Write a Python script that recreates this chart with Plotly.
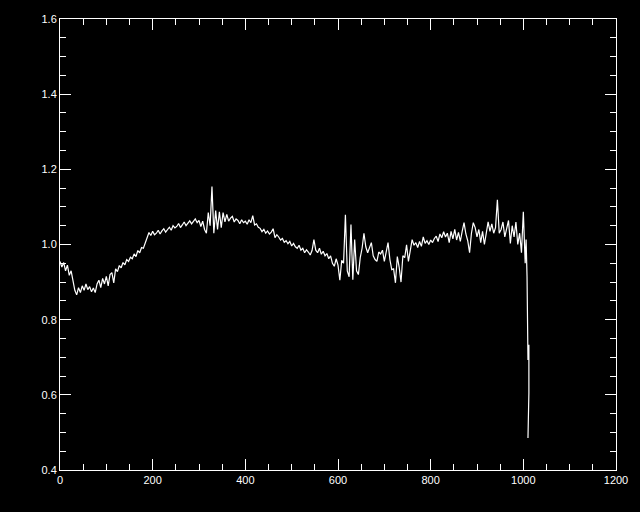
import plotly.graph_objects as go

# x positions (step 4) for main section
x_main = list(range(0, 1004, 4))
y_main = [
    0.955, 0.94, 0.952, 0.93, 0.945, 0.918, 0.93, 0.90, 0.878, 0.866,
    0.885, 0.872, 0.89, 0.878, 0.895, 0.88, 0.888, 0.874, 0.884, 0.872,
    0.895, 0.905, 0.885, 0.91, 0.895, 0.915, 0.89, 0.92, 0.925, 0.898,
    0.935, 0.928, 0.944, 0.938, 0.952, 0.946, 0.96, 0.955, 0.966, 0.962,
    0.975, 0.968, 0.984, 0.978, 0.992, 0.99, 1.005, 1.018, 1.032, 1.024,
    1.035, 1.026, 1.03, 1.038, 1.028, 1.036, 1.042, 1.033, 1.04, 1.046,
    1.038, 1.05, 1.044, 1.048, 1.056, 1.045, 1.052, 1.06, 1.05, 1.057,
    1.063, 1.055, 1.062, 1.068, 1.058, 1.064, 1.048, 1.062, 1.04, 1.03,
    1.085, 1.05, 1.154, 1.03, 1.09, 1.04, 1.087, 1.045, 1.085, 1.06,
    1.08, 1.062, 1.07, 1.075, 1.06, 1.068, 1.064, 1.055, 1.066, 1.058,
    1.062, 1.054, 1.066, 1.058, 1.077, 1.052, 1.055, 1.046, 1.043, 1.034,
    1.04, 1.03, 1.036, 1.028, 1.033, 1.042, 1.018, 1.026, 1.02, 1.012,
    1.016, 1.006, 1.01, 1.002, 1.008, 0.996, 1.003, 0.994, 0.99, 0.998,
    0.985, 0.99, 0.978, 0.986, 0.98, 0.972, 0.984, 1.013, 0.985, 0.978,
    0.99, 0.974, 0.982, 0.97, 0.976, 0.962, 0.97, 0.95, 0.942, 0.962,
    0.945, 0.905, 0.958, 0.95, 1.079, 0.93, 0.914, 1.053, 0.906, 1.013,
    0.93, 0.92, 0.965, 0.99, 1.03, 0.994, 0.978, 0.99, 1.005, 0.97,
    0.96, 0.955, 0.98, 0.975, 0.985, 0.955, 0.98, 1.005, 0.96, 0.933,
    0.935, 0.898, 0.968, 0.94, 0.90, 0.97, 0.965, 0.999, 0.955, 0.98,
    1.013, 0.998, 1.005, 0.992, 1.008, 0.995, 1.02, 1.003, 1.01, 1.0,
    1.012, 1.005, 1.016, 1.022, 1.008, 1.028, 1.018, 1.034, 1.02, 1.03,
    1.005, 1.035, 1.015, 1.04, 1.012, 1.032, 1.008, 1.035, 1.058, 1.028,
    1.01, 0.978, 1.03, 1.058, 1.045, 1.02, 1.04, 1.005, 1.035, 1.0,
    1.03, 1.06, 1.035, 1.055, 1.03, 1.045, 1.119, 1.03, 1.04, 1.06,
    1.02, 1.045, 1.064, 1.003, 1.05, 1.02, 1.06, 1.0, 1.03, 0.978,
    1.087,
]
# tail section (the sharp drop at the end of the record)
x_tail = [1004, 1006, 1008, 1010, 1012, 1012, 1010]
y_tail = [0.95, 1.013, 0.914, 0.693, 0.733, 0.605, 0.485]

x_vals = x_main + x_tail
y_vals = y_main + y_tail

fig = go.Figure()
fig.add_trace(go.Scatter(x=x_vals, y=y_vals, mode="lines",
                         line=dict(color="white", width=1.2), showlegend=False))

axis_common = dict(
    showgrid=False, zeroline=False, showline=True, linecolor="white", linewidth=1,
    mirror="allticks", ticks="inside", tickcolor="white", ticklen=11, tickwidth=1,
    tickfont=dict(color="white", size=11, family="Liberation Sans"),
)
fig.update_xaxes(range=[0, 1200], tick0=0, dtick=200,
                 minor=dict(dtick=50, ticklen=6, tickcolor="white", ticks="inside"),
                 **axis_common)
fig.update_yaxes(range=[0.4, 1.6], tick0=0.4, dtick=0.2, tickformat=".1f",
                 minor=dict(dtick=0.05, ticklen=6, tickcolor="white", ticks="inside"),
                 **axis_common)
fig.update_layout(
    width=640, height=512,
    paper_bgcolor="black", plot_bgcolor="black",
    margin=dict(l=60, r=18, t=19, b=42),
)
fig.write_html("out.html", config={"displayModeBar": False})

# remove the browser's default page margin so the figure sits at the window's corner
with open("out.html", "r", encoding="utf-8") as f:
    html = f.read()
html = html.replace("<head>", "<head><style>html,body{margin:0;padding:0;background:black;}</style>", 1)
with open("out.html", "w", encoding="utf-8") as f:
    f.write(html)
